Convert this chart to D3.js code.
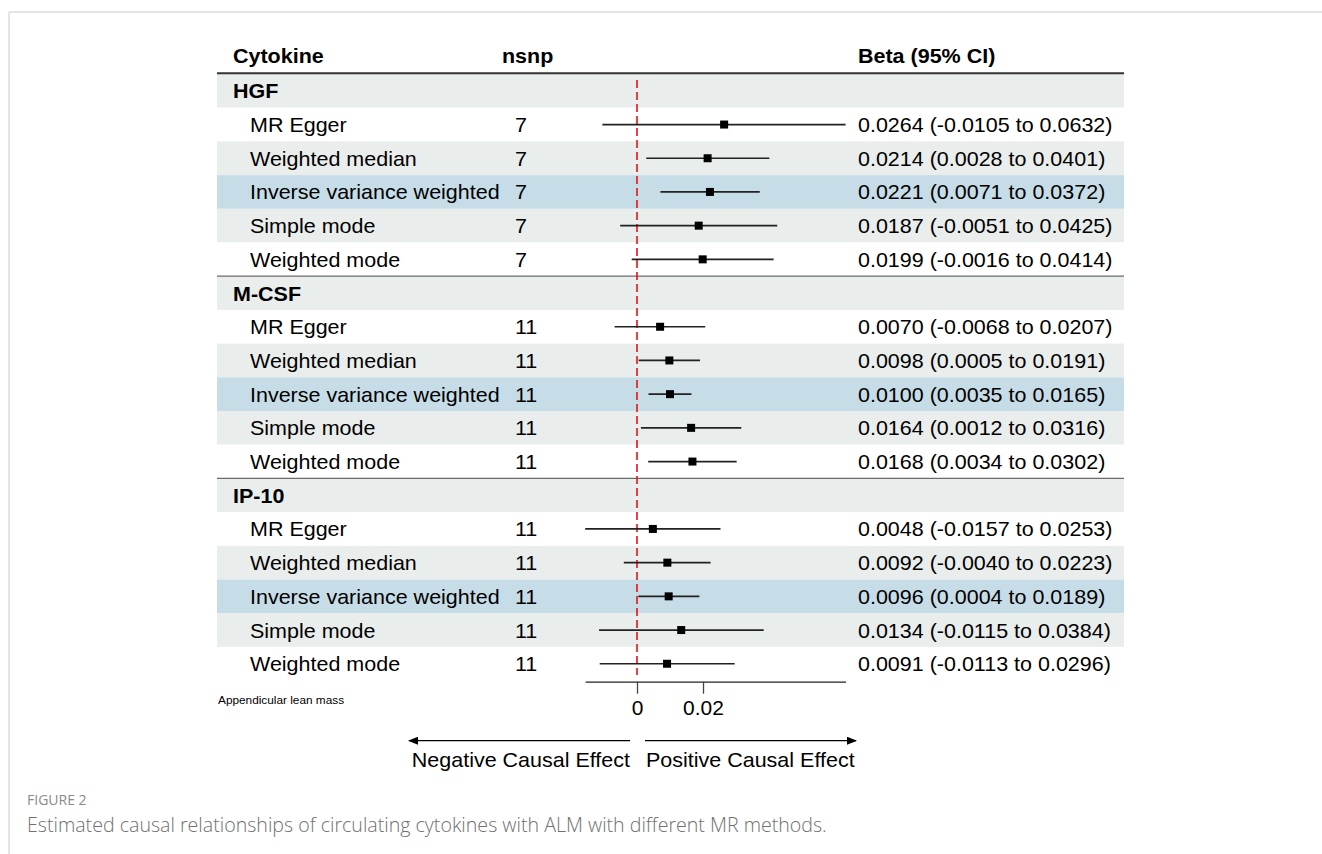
<!DOCTYPE html>
<html>
<head>
<meta charset="utf-8">
<script src="https://cdn.jsdelivr.net/npm/d3@7"></script>
<style>
  html, body { margin: 0; padding: 0; background: #fff; }
  svg { display: block; }
</style>
</head>
<body>
<svg id="chart" width="1322" height="854"></svg>
<script>
// ---------- data ----------
const groups = ["HGF", "M-CSF", "IP-10"];
const methods = ["MR Egger", "Weighted median", "Inverse variance weighted", "Simple mode", "Weighted mode"];
const nsnp = [7, 11, 11];
const beta = [
  [0.0264, 0.0214, 0.0221, 0.0187, 0.0199],
  [0.0070, 0.0098, 0.0100, 0.0164, 0.0168],
  [0.0048, 0.0092, 0.0096, 0.0134, 0.0091]
];
const lower = [
  [-0.0105, 0.0028, 0.0071, -0.0051, -0.0016],
  [-0.0068, 0.0005, 0.0035, 0.0012, 0.0034],
  [-0.0157, -0.0040, 0.0004, -0.0115, -0.0113]
];
const upper = [
  [0.0632, 0.0401, 0.0372, 0.0425, 0.0414],
  [0.0207, 0.0191, 0.0165, 0.0316, 0.0302],
  [0.0253, 0.0223, 0.0189, 0.0384, 0.0296]
];
const tickValues = [0, 0.02];
const headers = ["Cytokine", "nsnp", "Beta (95% CI)"];
const outcomeLabel = "Appendicular lean mass";
const arrowLabels = ["Negative Causal Effect", "Positive Causal Effect"];
const figLabel = "FIGURE 2";
const caption = "Estimated causal relationships of circulating cytokines with ALM with different MR methods.";

// ---------- rows ----------
const rows = [];
groups.forEach((g, gi) => {
  rows.push({type: "group", label: g, gi});
  methods.forEach((m, mi) => {
    rows.push({type: "item", label: m, gi, mi, n: nsnp[gi],
      b: beta[gi][mi], lo: lower[gi][mi], hi: upper[gi][mi]});
  });
});

const svg = d3.select("#chart");
const FONT = "'Liberation Sans', Arial, Helvetica, sans-serif";
const SX = 1.075; // horizontal stretch of the original rendering

const tableLeft = 217, tableRight = 1124;
const rowTop0 = 74, rowH = 33.7;
const y = d3.scaleLinear().domain([0, 1]).range([rowTop0, rowTop0 + rowH]);
const x = d3.scaleLinear().domain([0, 0.02]).range([637, 703]);

function txt(g, s, px, py, opts = {}) {
  const t = g.append("text")
    .attr("transform", `translate(${px},${py}) scale(${SX},1)`)
    .attr("font-family", FONT)
    .attr("font-size", opts.size || 20)
    .attr("font-weight", opts.bold ? "bold" : "normal")
    .attr("fill", opts.fill || "#000")
    .attr("text-anchor", opts.anchor || "start")
    .text(s);
  return t;
}

// border of figure frame
svg.append("line").attr("x1", 9).attr("x2", 1322).attr("y1", 12).attr("y2", 12)
  .attr("stroke", "#dcdcdc").attr("stroke-width", 1.5);
svg.append("line").attr("x1", 9).attr("x2", 9).attr("y1", 12).attr("y2", 854)
  .attr("stroke", "#dcdcdc").attr("stroke-width", 1.5);

// row backgrounds
function bandColor(r) {
  if (r.type === "group") return "#e9edec";
  if (r.mi === 2) return "#c6dde8";
  if (r.mi === 1 || r.mi === 3) return "#e9edec";
  return "#ffffff";
}
svg.append("g").selectAll("rect").data(rows).join("rect")
  .attr("x", tableLeft).attr("width", tableRight - tableLeft)
  .attr("y", (d, i) => y(i)).attr("height", rowH)
  .attr("fill", bandColor);

// header
const hg = svg.append("g");
txt(hg, headers[0], 233, 62.5, {bold: true});
txt(hg, headers[1], 502, 62.5, {bold: true});
txt(hg, headers[2], 858, 62.5, {bold: true});
svg.append("line").attr("x1", tableLeft).attr("x2", tableRight)
  .attr("y1", 73.3).attr("y2", 73.3).attr("stroke", "#333").attr("stroke-width", 2);

// group separators
groups.forEach((g, gi) => {
  if (gi === 0) return;
  const yy = y(gi * (methods.length + 1));
  svg.append("line").attr("x1", tableLeft).attr("x2", tableRight)
    .attr("y1", yy).attr("y2", yy).attr("stroke", "#6b6b6b").attr("stroke-width", 1.2);
});

// row text
const tg = svg.append("g");
rows.forEach((r, i) => {
  const base = y(i + 0.5) + 7.5;
  if (r.type === "group") {
    txt(tg, r.label, 233, base, {bold: true});
  } else {
    txt(tg, r.label, 250, base);
    txt(tg, String(r.n), 515, base);
    const f = v => v.toFixed(4);
    txt(tg, `${f(r.b)} (${f(r.lo)} to ${f(r.hi)})`, 858, base);
  }
});

// reference line at 0
svg.append("line").attr("x1", x(0)).attr("x2", x(0))
  .attr("y1", 80).attr("y2", 675)
  .attr("stroke", "#e8101a").attr("stroke-width", 1.6)
  .attr("stroke-dasharray", "8,4");

// CIs and points
const items = rows.map((r, i) => ({...r, i})).filter(r => r.type === "item");
const pg = svg.append("g");
pg.selectAll("line").data(items).join("line")
  .attr("x1", d => x(d.lo)).attr("x2", d => x(d.hi))
  .attr("y1", d => y(d.i + 0.5)).attr("y2", d => y(d.i + 0.5))
  .attr("stroke", "#222").attr("stroke-width", 1.7);
const sq = 8;
pg.selectAll("rect").data(items).join("rect")
  .attr("x", d => x(d.b) - sq / 2).attr("y", d => y(d.i + 0.5) - sq / 2)
  .attr("width", sq).attr("height", sq).attr("fill", "#000");

// axis
const allVals = lower.flat().concat(upper.flat());
const ext = d3.extent(allVals);
const axScale = x.copy().domain(ext).range(ext.map(x));
const axisY = 681.7;
const ax = svg.append("g").attr("transform", `translate(0,${axisY})`)
  .call(d3.axisBottom(axScale).tickValues(tickValues).tickSize(12).tickSizeOuter(0)
    .tickFormat(d => d === 0 ? "0" : d3.format(".2f")(d)));
ax.select(".domain").attr("stroke", "#222").attr("stroke-width", 1.3);
ax.selectAll(".tick line").attr("stroke", "#444").attr("stroke-width", 1.3);
ax.selectAll(".tick text")
  .attr("font-family", FONT).attr("font-size", 19.5).attr("fill", "#000")
  .attr("y", 33.5).attr("dy", 0)
  .attr("transform", `scale(${SX},1)`);

// outcome label
txt(svg, outcomeLabel, 218, 704, {size: 11});

// arrows
const defs = svg.append("defs");
defs.append("marker").attr("id", "ah").attr("viewBox", "0 0 10 10")
  .attr("refX", 9).attr("refY", 5).attr("markerWidth", 10).attr("markerHeight", 8)
  .attr("orient", "auto-start-reverse").attr("markerUnits", "userSpaceOnUse")
  .attr("preserveAspectRatio", "none")
  .append("path").attr("d", "M0,0 L10,5 L0,10 z").attr("fill", "#000");
const arrowY = 740.7;
svg.append("line").attr("x1", 630).attr("x2", 409).attr("y1", arrowY).attr("y2", arrowY)
  .attr("stroke", "#000").attr("stroke-width", 1.2).attr("marker-end", "url(#ah)");
svg.append("line").attr("x1", 645).attr("x2", 856).attr("y1", arrowY).attr("y2", arrowY)
  .attr("stroke", "#000").attr("stroke-width", 1.2).attr("marker-end", "url(#ah)");
txt(svg, arrowLabels[0], 630, 766.5, {anchor: "end"});
txt(svg, arrowLabels[1], 646, 766.5);

// caption
svg.append("text").attr("x", 27).attr("y", 805)
  .attr("font-family", "'Open Sans', sans-serif").attr("font-size", 14)
  .attr("fill", "#8a8a8a").text(figLabel);
svg.append("text").attr("x", 27).attr("y", 832)
  .attr("font-family", "'Open Sans', sans-serif").attr("font-size", 19.6)
  .attr("font-weight", 300)
  .attr("fill", "#707070").text(caption);
</script>
</body>
</html>
